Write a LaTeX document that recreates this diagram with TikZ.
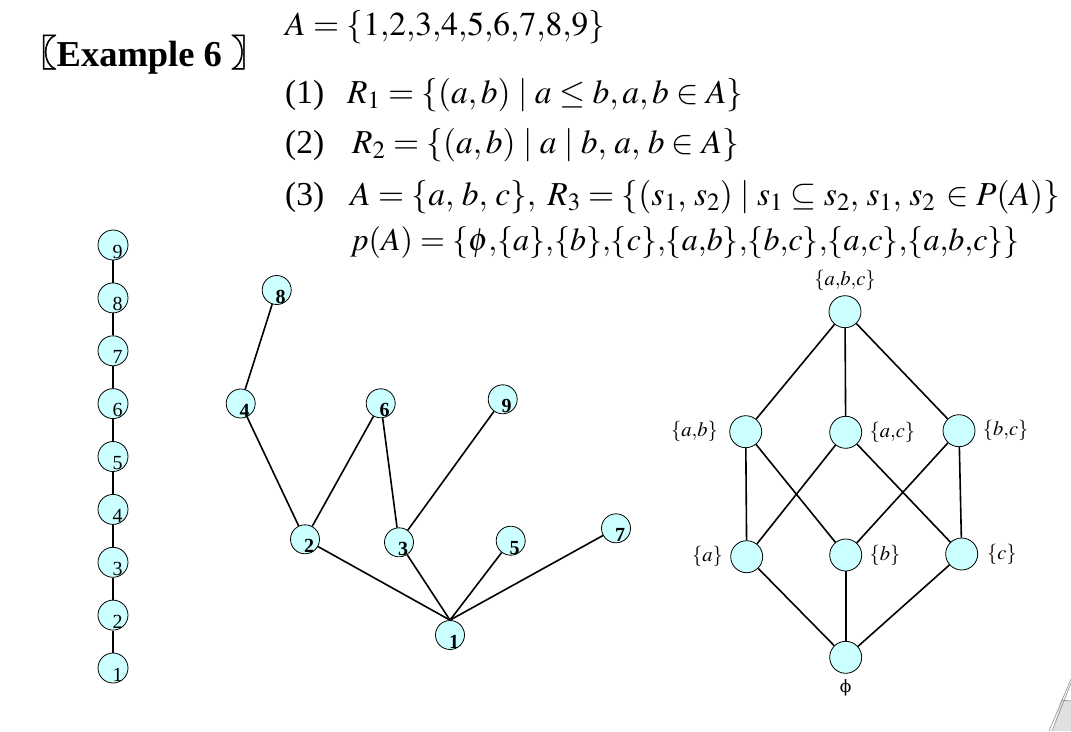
\documentclass[tikz,border=0pt]{standalone}
\usepackage{mathptmx}
\usepackage{fontspec}
\setmainfont{Liberation Serif}
\newfontfamily\cjk{Noto Sans CJK SC}[FakeBold=1.5]
\newfontfamily\phifont{DejaVu Serif}
\definecolor{nodecyan}{HTML}{CCFFFF}
\tikzset{
	chainnode/.style={circle, draw=black, line width=0.8pt, fill=nodecyan, minimum size=30pt, inner sep=0pt},
	treenode/.style={circle, draw=black, line width=0.8pt, fill=nodecyan, minimum size=29pt, inner sep=0pt},
	setnode/.style={circle, draw=black, line width=0.8pt, fill=nodecyan, minimum size=32pt, inner sep=0pt},
	chainnum/.style={font=\fontsize{20}{20}\selectfont, inner sep=0pt, xshift=4.5pt, yshift=-6.5pt},
	treenum/.style={font=\bfseries\fontsize{20}{20}\selectfont, inner sep=0pt, xshift=4pt, yshift=-7pt},
	setlabel/.style={font=\fontsize{20.5}{22}\selectfont, label distance=4pt},
	hasse/.style={line width=1.6pt},
	formula/.style={anchor=base west, inner sep=0pt, font=\fontsize{33.5}{36}\selectfont},
}

\begin{document}
\begin{tikzpicture}[x=1pt, y=-1pt]
			%%%%% START %%%%%
			\useasboundingbox (0,0) rectangle (1071,731);
			
			\node[anchor=base west, inner sep=0pt, font=\bfseries\fontsize{36.5}{40}\selectfont] (title) at (20,66) {{\cjk 〖}Example 6\hspace{9pt}{\cjk 〗}};
			
			\node[formula] (setA) at (285,35) {$A=\{1{,}2{,}3{,}4{,}5{,}6{,}7{,}8{,}9\}$};
			\node[formula] (num1) at (285,103) {(1)};
			\node[formula] (rel1) at (347,103) {$R_1=\{(a,b)\mid a\le b,a,b\in A\}$};
			\node[formula] (num2) at (285,153) {(2)};
			\node[formula] (rel2) at (352,153) {$R_2=\{(a,b)\mid a\mid b,\,a,\,b\in A\}$};
			\node[formula] (num3) at (285,205) {(3)};
			\node[formula] (rel3) at (350,205) {$A=\{a,\,b,\,c\},\;R_3=\{(s_1,\,s_2)\mid s_1\subseteq s_2,\,s_1,\,s_2\,\in P(A)\}$};
			\node[formula, font=\fontsize{32}{36}\selectfont] (power) at (350,250) {$p(A)=\{\phi{,}\{a\}{,}\{b\}{,}\{c\}{,}\{a{,}b\}{,}\{b{,}c\}{,}\{a{,}c\}{,}\{a{,}b{,}c\}\}$};
			
			%% R1: chain
			\node[chainnode, label={[chainnum]center:1}] (c1) at (113,668) {};
			\node[chainnode, label={[chainnum]center:2}] (c2) at (113,615.1) {};
			\node[chainnode, label={[chainnum]center:3}] (c3) at (113,562.3) {};
			\node[chainnode, label={[chainnum]center:4}] (c4) at (113,509.4) {};
			\node[chainnode, label={[chainnum]center:5}] (c5) at (113,456.5) {};
			\node[chainnode, label={[chainnum]center:6}] (c6) at (113,403.6) {};
			\node[chainnode, label={[chainnum]center:7}] (c7) at (113,350.8) {};
			\node[chainnode, label={[chainnum]center:8}] (c8) at (113,297.9) {};
			\node[chainnode, label={[chainnum]center:9}] (c9) at (113,245) {};
			
			\draw[hasse] (c1) -- (c2);
			\draw[hasse] (c2) -- (c3);
			\draw[hasse] (c3) -- (c4);
			\draw[hasse] (c4) -- (c5);
			\draw[hasse] (c5) -- (c6);
			\draw[hasse] (c6) -- (c7);
			\draw[hasse] (c7) -- (c8);
			\draw[hasse] (c8) -- (c9);
			
			%% R2: divisibility
			\node[treenode, label={[treenum]center:8}] (t8) at (276.7,290) {};
			\node[treenode, label={[treenum]center:4}] (t4) at (240.7,403.5) {};
			\node[treenode, label={[treenum]center:6}] (t6) at (380.7,403.3) {};
			\node[treenode, label={[treenum]center:9}] (t9) at (502.7,399.3) {};
			\node[treenode, label={[treenum]center:2}] (t2) at (305,539.3) {};
			\node[treenode, label={[treenum]center:3}] (t3) at (399,542.3) {};
			\node[treenode, label={[treenum]center:5}] (t5) at (510.7,540.7) {};
			\node[treenode, label={[treenum]center:7}] (t7) at (616,528.3) {};
			\node[treenode, label={[treenum]center:1}] (t1) at (450,635) {};
			
			\draw[hasse] (t8) -- (t4);
			\draw[hasse] (t4) -- (t2);
			\draw[hasse] (t2) -- (t6);
			\draw[hasse] (t6) -- (t3);
			\draw[hasse] (t3) -- (t9);
			\draw[hasse] (t2) -- (t1.north);
			\draw[hasse] (t3) -- (t1.north);
			\draw[hasse] (t5) -- (t1.north);
			\draw[hasse] (t7) -- (t1.north);
			
			%% R3: subsets
			\node[setnode, label={[setlabel, label distance=1pt]above:$\{a{,}b{,}c\}$}] (sabc) at (845,311.7) {};
			\node[setnode, label={[setlabel, label distance=8pt]left:$\{a{,}b\}$}] (sab) at (745.7,431.7) {};
			\node[setnode, label={[setlabel]right:$\{a{,}c\}$}] (sac) at (845.7,432.3) {};
			\node[setnode, label={[setlabel]right:$\{b{,}c\}$}] (sbc) at (959,430.7) {};
			\node[setnode, label={[setlabel]left:$\{a\}$}] (sa) at (746.7,556.7) {};
			\node[setnode, label={[setlabel]right:$\{b\}$}] (sb) at (845.7,555) {};
			\node[setnode, label={[setlabel, label distance=5.5pt]right:$\{c\}$}] (sc) at (961.7,554) {};
			\node[setnode, label={[font=\phifont\fontsize{17}{17}\selectfont, label distance=2pt]below:ϕ}] (sempty) at (845.7,657.3) {};
			
			\draw[hasse] (sabc) -- (sab);
			\draw[hasse] (sabc) -- (sac);
			\draw[hasse] (sabc) -- (sbc);
			\draw[hasse] (sab) -- (sa);
			\draw[hasse] (sab) -- (sb);
			\draw[hasse] (sac) -- (sa);
			\draw[hasse] (sac) -- (sc);
			\draw[hasse] (sbc) -- (sb);
			\draw[hasse] (sbc) -- (sc);
			\draw[hasse] (sa) -- (sempty);
			\draw[hasse] (sb) -- (sempty);
			\draw[hasse] (sc) -- (sempty);
			
			%% page corner
			\fill[black!12] (1061,700) -- (1071,701) -- (1071,731) -- (1053,731) -- cycle;
			\draw[black!45, line width=0.6pt] (1071,679) -- (1049,731);
			\draw[black!45, line width=0.6pt] (1071,683) -- (1052,731);
			\draw[black!45, line width=0.6pt] (1061,700) -- (1071,701);
			
			%%%%% END %%%%%
\end{tikzpicture}
\end{document}
